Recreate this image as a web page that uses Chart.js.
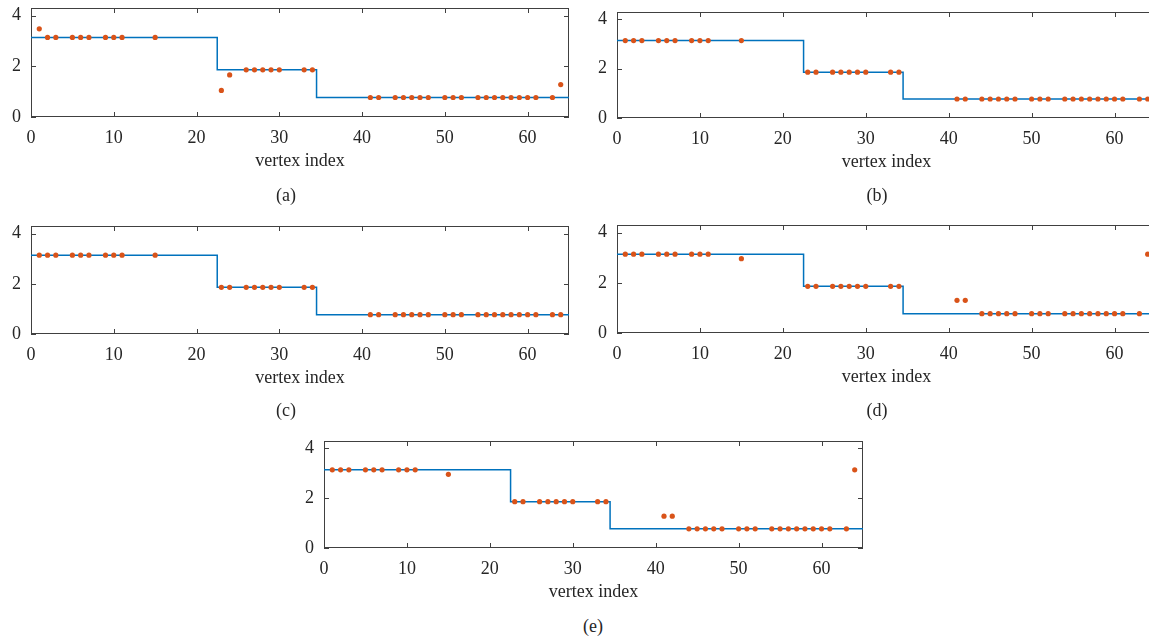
<!DOCTYPE html>
<html lang="en">
<head>
<meta charset="UTF-8" />
<title>Vertex index panels</title>
<script src="https://cdn.jsdelivr.net/npm/chart.js"></script>
<style>
  html, body { margin: 0; padding: 0; background: #fff; width: 1149px; height: 641px; overflow: hidden; }
  .panel { position: absolute; }
  .cap { position: absolute; font-family: "Liberation Serif", serif; font-size: 18px; color: #262626;
         transform: translate(-50%, -50%); white-space: nowrap; }
</style>
</head>
<body>

<canvas id="pa" class="panel"></canvas>
<canvas id="pb" class="panel"></canvas>
<canvas id="pc" class="panel"></canvas>
<canvas id="pd" class="panel"></canvas>
<canvas id="pe" class="panel"></canvas>

<div class="cap" style="left:286px; top:195px;">(a)</div>
<div class="cap" style="left:877px; top:195px;">(b)</div>
<div class="cap" style="left:286px; top:410px;">(c)</div>
<div class="cap" style="left:877px; top:410px;">(d)</div>
<div class="cap" style="left:593px; top:626px;">(e)</div>

<script>
  // vertex indices that carry a sample
  const vertexIdx = [1, 2, 3, 5, 6, 7, 9, 10, 11, 15,
                     23, 24, 26, 27, 28, 29, 30, 33, 34,
                     41, 42, 44, 45, 46, 47, 48, 50, 51, 52, 54, 55, 56, 57, 58, 59, 60, 61, 63, 64];

  // piecewise-constant reference (value holds until the next edge)
  const stepX = [0, 22.5, 34.5, 65];
  const stepY = [3.14, 1.86, 0.77, 0.77];

  // estimated values per panel
  const valsA = [3.48, 3.14, 3.14, 3.14, 3.14, 3.14, 3.14, 3.14, 3.14, 3.14,
                 1.05, 1.66, 1.86, 1.86, 1.86, 1.86, 1.86, 1.86, 1.86,
                 0.77, 0.77, 0.77, 0.77, 0.77, 0.77, 0.77, 0.77, 0.77, 0.77,
                 0.77, 0.77, 0.77, 0.77, 0.77, 0.77, 0.77, 0.77, 0.77, 1.28];
  const valsB = [3.14, 3.14, 3.14, 3.14, 3.14, 3.14, 3.14, 3.14, 3.14, 3.14,
                 1.86, 1.86, 1.86, 1.86, 1.86, 1.86, 1.86, 1.86, 1.86,
                 0.77, 0.77, 0.77, 0.77, 0.77, 0.77, 0.77, 0.77, 0.77, 0.77,
                 0.77, 0.77, 0.77, 0.77, 0.77, 0.77, 0.77, 0.77, 0.77, 0.77];
  const valsC = [3.14, 3.14, 3.14, 3.14, 3.14, 3.14, 3.14, 3.14, 3.14, 3.14,
                 1.86, 1.86, 1.86, 1.86, 1.86, 1.86, 1.86, 1.86, 1.86,
                 0.77, 0.77, 0.77, 0.77, 0.77, 0.77, 0.77, 0.77, 0.77, 0.77,
                 0.77, 0.77, 0.77, 0.77, 0.77, 0.77, 0.77, 0.77, 0.77, 0.77];
  const valsD = [3.14, 3.14, 3.14, 3.14, 3.14, 3.14, 3.14, 3.14, 3.14, 2.96,
                 1.86, 1.86, 1.86, 1.86, 1.86, 1.86, 1.86, 1.86, 1.86,
                 1.30, 1.30, 0.77, 0.77, 0.77, 0.77, 0.77, 0.77, 0.77, 0.77,
                 0.77, 0.77, 0.77, 0.77, 0.77, 0.77, 0.77, 0.77, 0.77, 3.14];
  const valsE = [3.14, 3.14, 3.14, 3.14, 3.14, 3.14, 3.14, 3.14, 3.14, 2.96,
                 1.86, 1.86, 1.86, 1.86, 1.86, 1.86, 1.86, 1.86, 1.86,
                 1.28, 1.28, 0.77, 0.77, 0.77, 0.77, 0.77, 0.77, 0.77, 0.77,
                 0.77, 0.77, 0.77, 0.77, 0.77, 0.77, 0.77, 0.77, 0.77, 3.14];

  const xTicks = [0, 10, 20, 30, 40, 50, 60];
  const yTicks = [0, 2, 4];
  const xLabel = 'vertex index';

  const FONT = { family: '"Liberation Serif", serif', size: 18 };
  const INK = '#262626';
  // top room must cover the y scale's own label padding (half label + tick padding)
  const PAD = { top: 22, right: 12, bottom: 4 };
  const Y_W = 31, X_H = 55;

  // plot box on the page: left, top, right, bottom
  const panels = [
    { id: 'pa', vals: valsA, box: [31, 8, 569, 117] },
    { id: 'pb', vals: valsB, box: [617, 12, 1156, 118] },
    { id: 'pc', vals: valsC, box: [31, 226, 569, 334] },
    { id: 'pd', vals: valsD, box: [617, 225, 1156, 333] },
    { id: 'pe', vals: valsE, box: [324, 441, 863, 548] }
  ];

  // axes box with inward ticks on all four sides
  const boxTicks = {
    id: 'boxTicks',
    beforeDatasetsDraw(chart) {
      const { ctx, chartArea: a, scales: { x, y } } = chart;
      ctx.save();
      ctx.strokeStyle = '#404040';
      ctx.lineWidth = 1;
      ctx.beginPath();
      x.ticks.forEach(t => {
        const px = Math.round(x.getPixelForValue(t.value)) + 0.5;
        ctx.moveTo(px, a.bottom); ctx.lineTo(px, a.bottom - 5);
        ctx.moveTo(px, a.top); ctx.lineTo(px, a.top + 5);
      });
      y.ticks.forEach(t => {
        const py = Math.round(y.getPixelForValue(t.value)) + 0.5;
        ctx.moveTo(a.left, py); ctx.lineTo(a.left + 5, py);
        ctx.moveTo(a.right, py); ctx.lineTo(a.right - 5, py);
      });
      ctx.stroke();
      ctx.strokeRect(a.left + 0.5, a.top + 0.5, a.width - 1, a.height - 1);
      ctx.restore();
    }
  };

  function drawPanel(p) {
    const [L, T, R, B] = p.box;
    const cv = document.getElementById(p.id);
    const w = Y_W + (R - L) + PAD.right;
    const h = PAD.top + (B - T) + X_H + PAD.bottom;
    cv.width = w; cv.height = h;
    cv.style.left = (L - Y_W) + 'px';
    cv.style.top = (T - PAD.top) + 'px';
    cv.style.width = w + 'px';
    cv.style.height = h + 'px';

    const pts = vertexIdx.map((v, i) => ({ x: v, y: p.vals[i] }));
    const steps = stepX.map((v, i) => ({ x: v, y: stepY[i] }));

    new Chart(cv, {
      type: 'scatter',
      data: {
        datasets: [
          {
            data: pts,
            pointRadius: 2.6,
            pointBackgroundColor: '#D95319',
            pointBorderWidth: 0,
            showLine: false
          },
          {
            // 'before' in Chart.js = run flat first, then jump at the next x
            data: steps,
            showLine: true,
            stepped: 'before',
            borderColor: '#0072BD',
            borderWidth: 1.5,
            pointRadius: 0
          }
        ]
      },
      options: {
        responsive: false,
        animation: false,
        devicePixelRatio: 1,
        layout: { padding: { left: 0, top: PAD.top, right: PAD.right, bottom: PAD.bottom } },
        plugins: { legend: { display: false }, tooltip: { enabled: false } },
        scales: {
          x: {
            type: 'linear', min: 0, max: 65,
            afterBuildTicks: s => { s.ticks = xTicks.map(v => ({ value: v })); },
            afterFit: s => { s.height = X_H; },
            grid: { display: false, drawTicks: false },
            border: { display: false },
            ticks: { padding: 10, color: INK, font: FONT, maxRotation: 0 },
            title: { display: true, text: xLabel, color: INK, font: FONT, padding: { top: 0, bottom: 0 } }
          },
          y: {
            type: 'linear', min: 0, max: 4.3,
            afterBuildTicks: s => { s.ticks = yTicks.map(v => ({ value: v })); },
            afterFit: s => { s.width = Y_W; },
            grid: { display: false, drawTicks: false },
            border: { display: false },
            ticks: { padding: 10, color: INK, font: FONT }
          }
        }
      },
      plugins: [boxTicks]
    });
  }

  panels.forEach(drawPanel);
</script>

</body>
</html>
